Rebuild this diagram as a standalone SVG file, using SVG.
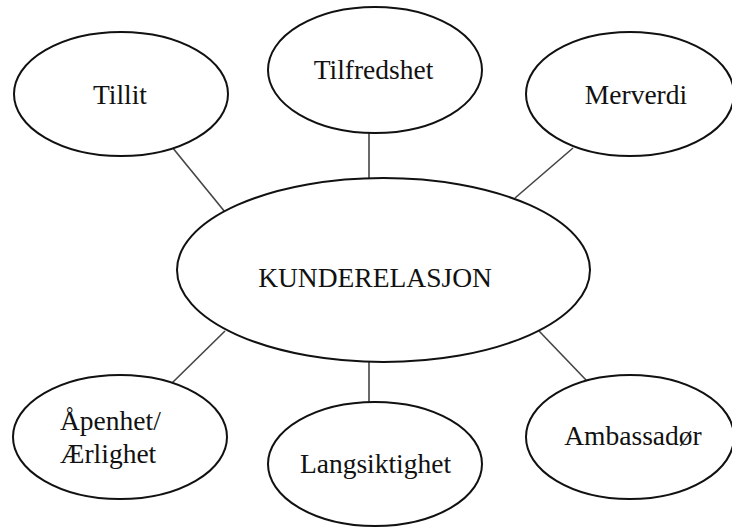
<svg xmlns="http://www.w3.org/2000/svg" width="732" height="527" viewBox="0 0 732 527">
  <style>
    .node ellipse { fill: #ffffff; stroke: #111111; stroke-width: 2; }
    .node text { font-size: 27.5px; fill: #111111; text-anchor: middle; }
    .node text.left { text-anchor: start; }
    #connectors line { stroke: #444444; stroke-width: 1.6; }
  </style>
  <rect width="732" height="527" fill="#ffffff"/>

  <!-- spokes from the hub to each satellite -->
  <g id="connectors">
    <line x1="172" y1="147" x2="225" y2="212"/>
    <line x1="369" y1="133" x2="369" y2="178"/>
    <line x1="573" y1="148" x2="515" y2="198"/>
    <line x1="172" y1="383" x2="225" y2="331"/>
    <line x1="369" y1="362" x2="369" y2="402"/>
    <line x1="587" y1="381" x2="539" y2="331"/>
  </g>

  <g font-family="'Liberation Serif', 'DejaVu Serif', serif">
    <g id="hub" class="node">
      <ellipse cx="383.5" cy="270" rx="206.5" ry="92"/>
      <text x="375" y="287">KUNDERELASJON</text>
    </g>

    <g id="tillit" class="node">
      <ellipse cx="121" cy="94" rx="107" ry="62"/>
      <text x="120" y="104">Tillit</text>
    </g>

    <g id="tilfredshet" class="node">
      <ellipse cx="375" cy="70" rx="107" ry="63"/>
      <text x="373.5" y="79">Tilfredshet</text>
    </g>

    <g id="merverdi" class="node">
      <ellipse cx="630" cy="94" rx="104" ry="62"/>
      <text x="636" y="104">Merverdi</text>
    </g>

    <g id="apenhet" class="node">
      <ellipse cx="120" cy="437" rx="107" ry="62"/>
      <text class="left" x="60" y="430">Åpenhet/</text>
      <text class="left" x="60" y="463">Ærlighet</text>
    </g>

    <g id="langsiktighet" class="node">
      <ellipse cx="375" cy="464" rx="107" ry="62"/>
      <text x="375.5" y="473">Langsiktighet</text>
    </g>

    <g id="ambassador" class="node">
      <ellipse cx="630" cy="437" rx="104" ry="62"/>
      <text x="633" y="445">Ambassadør</text>
    </g>
  </g>
</svg>
